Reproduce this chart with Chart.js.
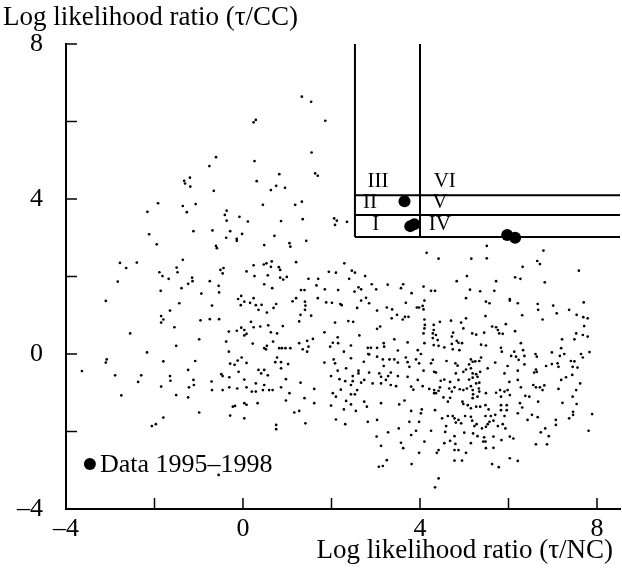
<!DOCTYPE html>
<html>
<head>
<meta charset="utf-8">
<script src="https://cdn.jsdelivr.net/npm/chart.js@4.4.0/dist/chart.umd.min.js"></script>
<style>
  html, body { margin: 0; padding: 0; background: #fff; }
</style>
</head>
<body>
<canvas id="grafico" width="622" height="569"></canvas>
<script>
// Pontos de fundo: [razao tau/NC, razao tau/CC]
const pontosFundo = [
  [-0.61,5.08],[-0.76,4.85],[-1.20,4.55],[-1.33,4.47],[-1.31,4.40],[-1.19,4.32],[-0.66,4.21],
  [1.33,6.64],[1.54,6.51],[0.29,6.04],[0.24,5.98],[1.86,6.02],[1.55,5.20],[0.26,4.98],[0.82,4.64],[1.63,4.66],[1.69,4.60],[0.31,4.46],[0.75,4.34],[0.63,4.23],[0.95,4.29],
  [-1.92,3.89],[-2.16,3.67],[-1.36,3.82],[-1.27,3.66],[-1.07,3.87],[-0.37,3.70],[-0.41,3.59],[-0.08,3.54],[0.11,3.42],[-0.37,3.44],[-2.12,3.09],[-1.12,3.17],[-0.69,3.19],[-0.29,3.17],[-0.02,3.10],[-0.38,3.00],[-0.14,2.97],[-0.14,2.92],[-1.95,2.83],[-0.61,2.79],[-0.59,2.73],[-2.78,2.35],[-2.40,2.36],[-2.64,2.22],[-1.36,2.43],[-1.50,2.23],[-1.48,2.11],[-1.89,2.11],[-1.82,2.01],[-1.68,1.94],[-1.15,1.97],[-1.14,1.88],[-0.75,1.88],[-0.51,2.17],[-0.44,2.22],[-0.46,2.08],[0.08,2.13],[-2.83,1.87],[-1.24,1.81],[-0.55,1.76],[-1.86,1.63],[-1.39,1.70],[-0.54,1.59],[-0.94,1.56],[-0.04,1.50],[-0.11,1.42],
  [0.45,3.85],[1.18,3.85],[1.33,3.93],[0.86,3.43],[1.35,3.48],[2.06,3.50],[2.12,3.44],[2.08,3.33],[2.35,3.41],[0.71,3.05],[0.48,2.81],[1.43,2.92],[1.05,2.86],[1.07,2.77],[4.15,2.61],[0.24,2.29],[0.47,2.31],[0.53,2.34],[0.65,2.39],[0.63,2.25],[0.81,2.24],[0.84,2.17],[1.20,2.37],[2.29,2.34],[2.46,2.15],[2.53,2.10],[1.94,2.12],[2.10,2.10],[0.26,2.01],[0.56,2.03],[0.84,1.97],[0.91,1.92],[0.99,1.99],[1.48,1.94],[1.70,1.94],[2.40,1.94],[2.76,2.01],[0.48,1.80],[0.66,1.70],[1.31,1.65],[1.39,1.65],[1.66,1.77],[1.85,1.67],[2.15,1.65],[2.52,1.61],[2.61,1.72],[2.67,1.67],[2.91,1.80],[3.01,1.67],[3.27,1.79],[3.57,1.70],[3.62,1.80],[3.81,1.57],[4.08,1.74],[4.25,1.63],[4.34,1.63],[0.24,1.44],[1.20,1.44],[1.69,1.44],[2.78,1.45],
  [5.51,2.79],[4.42,2.46],[5.16,2.46],[5.51,2.47],[6.79,2.67],[6.65,2.40],[6.71,2.32],[6.32,2.25],[7.59,2.15],[4.83,1.88],[5.06,2.01],[5.72,1.88],[6.15,1.98],[6.27,1.94],[6.82,1.85],[5.13,1.66],[5.36,1.62],[5.68,1.63],[5.04,1.44],[6.03,1.42],
  [-3.10,1.37],[-1.44,1.31],[-1.65,1.12],[-1.85,0.98],[-1.80,0.89],[-1.85,0.81],[-1.55,0.69],[-0.70,1.25],[-0.96,0.87],[-0.75,0.90],[-0.54,0.90],[-0.05,1.26],[0.03,1.35],[0.16,1.32],[-2.55,0.53],[-0.99,0.38],[-2.17,0.04],[-1.51,0.21],[-3.08,-0.14],[-3.10,-0.22],[-3.64,-0.44],[-1.80,-0.19],[-1.08,-0.18],[-1.24,-0.41],[-2.89,-0.55],[-2.30,-0.55],[-2.37,-0.72],[-1.65,-0.57],[-1.64,-0.69],[-1.12,-0.67],[-1.11,-0.80],[-1.85,-0.84],[-1.22,-0.86],[-0.71,-0.71],[-0.49,-0.52],[-0.46,-0.57],[-0.31,-0.60],[-0.70,-0.93],[-0.46,-0.93],[-0.31,-0.86],[-0.13,-0.89],[0.08,-0.86],[0.03,-0.66],[-0.10,-0.46],[-0.29,-0.25],[-0.19,-0.28],[-0.12,-0.17],[-0.03,-0.09],[0.08,-0.23],[-0.38,0.32],[-0.32,0.06],[-0.32,0.58],[-0.14,0.60],[-0.04,0.68],[0.03,0.62],[0.03,0.48],[0.08,0.52],[-2.75,-1.07],[-1.51,-1.06],[-1.24,-1.12],[0.18,0.83],
  [0.29,1.26],[0.35,1.14],[0.42,1.27],[0.54,1.07],[0.69,1.19],[0.75,1.29],[1.12,1.36],[1.40,1.35],[1.41,1.25],[1.40,1.14],[1.88,1.33],[2.01,1.32],[2.20,1.29],[2.23,1.26],[2.58,1.19],[2.67,1.38],[2.85,1.31],[3.03,1.12],[3.25,1.20],[3.37,1.15],[3.68,1.32],[3.93,1.20],[3.98,1.20],[4.06,1.24],[4.10,1.38],[4.08,1.15],
  [1.30,1.01],[1.54,0.99],[1.27,0.84],[0.24,0.69],[0.39,0.71],[0.57,0.74],[0.90,0.72],[0.63,0.56],[0.77,0.53],[1.84,0.56],[2.08,0.81],[2.38,0.85],[2.49,0.83],[3.10,0.71],[3.03,0.65],[3.48,1.01],[3.66,0.96],[3.74,0.96],[3.36,0.92],[3.61,0.89],[4.10,0.89],[4.11,0.75],[4.10,0.66],[4.08,0.53],[4.31,0.75],[4.31,0.62],[4.29,0.53],[2.63,0.48],[2.14,0.43],[2.03,0.29],[2.15,0.28],
  [0.22,0.27],[0.48,0.15],[0.54,0.21],[0.52,0.12],[0.68,0.32],[0.82,0.15],[0.88,0.15],[0.96,0.15],[1.07,0.15],[1.27,0.28],[1.35,0.12],[1.45,0.34],[1.48,0.19],[1.58,0.39],[1.45,0.06],[1.97,0.19],[2.28,0.06],[2.44,0.22],[2.82,0.16],[2.89,0.16],[2.83,0.00],[3.03,0.16],[3.18,0.28],[3.19,0.19],[3.42,0.38],[3.50,0.09],[3.72,0.30],[3.95,0.10],[4.02,0.00],[4.10,0.28],[4.29,0.41],[4.31,0.23],[4.36,0.49],
  [0.77,-0.09],[0.86,-0.21],[0.73,-0.21],[1.02,-0.26],[0.86,-0.37],[0.35,-0.41],[0.48,-0.41],[0.41,-0.50],[0.56,-0.55],[1.84,-0.22],[2.05,-0.14],[2.08,-0.24],[2.14,-0.43],[2.33,-0.37],[2.44,-0.11],[2.61,-0.43],[2.61,-0.50],[2.73,-0.20],[2.85,-0.01],[3.03,-0.07],[3.16,-0.14],[3.18,-0.31],[3.31,-0.14],[3.42,-0.14],[3.50,-0.22],[3.68,-0.09],[3.72,-0.21],[3.76,-0.33],[3.91,-0.14],[3.98,-0.24],[4.08,-0.43],[4.25,-0.24],[4.29,-0.15],[4.32,-0.46],[3.08,-0.50],[3.12,-0.59],[3.28,-0.57],[3.34,-0.48],[3.50,-0.57],[3.72,-0.59],[2.85,-0.48],[2.48,-0.57],
  [0.29,-0.76],[0.48,-0.80],[0.59,-0.93],[0.67,-0.93],[0.45,-0.93],[0.29,-0.97],[0.20,-0.97],[0.86,-0.86],[0.97,-0.65],[1.05,-1.01],[1.30,-0.74],[1.61,-0.90],[1.99,-0.57],[2.18,-0.65],[2.31,-0.70],[2.48,-0.70],[2.44,-0.80],[2.67,-0.74],[2.74,-0.67],[2.93,-0.76],[3.12,-0.76],[3.23,-0.67],[2.03,-1.01],[2.10,-1.10],[2.21,-0.92],[2.44,-1.04],[2.58,-0.93],[2.53,-1.04],[3.34,-0.80],[3.46,-0.83],[3.80,-0.84],[3.85,-0.92],[3.95,-0.67],[4.06,-0.83],[4.21,-0.90],[4.32,-0.93],[4.32,-1.01],[1.39,-1.14],
  [5.49,1.35],[5.57,1.31],[6.03,1.38],[6.21,1.31],[6.66,1.29],[6.67,1.14],[7.01,1.25],[7.09,1.05],[7.37,1.14],[7.70,1.33],[4.45,0.83],[4.70,0.86],[4.93,0.81],[5.04,0.92],[4.98,0.66],[5.48,0.98],[6.31,1.00],[6.77,0.89],[7.54,1.01],[7.69,0.95],[7.79,0.92],[7.71,0.72],[5.63,0.71],[5.72,0.69],[5.76,0.62],[5.79,0.53],[5.87,0.52],[5.94,0.77],[6.15,0.59],[5.18,0.53],[5.27,0.50],[5.45,0.55],[4.75,0.55],[4.72,0.45],[4.40,0.36],[4.83,0.34],[4.87,0.29],[4.95,0.28],[4.72,0.26],[4.74,0.12],[4.89,0.10],[4.42,0.21],[4.55,0.17],[5.38,0.24],[5.49,0.22],[6.28,0.28],[6.33,0.10],[5.83,0.16],[5.85,0.06],[6.13,0.06],[6.06,-0.05],[6.17,-0.07],[6.23,-0.15],[6.36,-0.05],[6.61,0.00],[6.64,-0.07],[6.98,0.04],[7.21,0.38],[7.49,0.38],[7.53,0.53],[7.68,0.49],[7.79,0.45],[7.19,0.15],[7.26,0.00],[7.16,-0.05],[7.64,0.00],[7.68,-0.09],[7.83,0.05],
  [4.60,-0.18],[4.80,-0.24],[4.85,-0.30],[5.15,-0.14],[5.19,-0.20],[5.25,-0.19],[5.34,-0.18],[5.38,-0.09],[5.11,-0.27],[5.15,-0.37],[5.04,-0.40],[4.98,-0.46],[4.81,-0.50],[5.19,-0.50],[5.27,-0.52],[5.36,-0.46],[5.53,-0.37],[5.70,-0.22],[5.98,-0.31],[5.91,-0.50],[6.21,-0.43],[6.36,-0.27],[6.62,-0.40],[6.58,-0.48],[6.85,-0.31],[6.98,-0.26],[7.11,-0.24],[7.13,-0.33],[7.41,-0.18],[7.49,-0.19],[7.45,-0.33],[7.56,-0.35],[7.44,-0.54],[7.30,-0.60],[7.19,-0.67],
  [4.36,-0.48],[4.47,-0.69],[4.55,-0.66],[4.68,-0.72],[4.87,-0.67],[5.11,-0.66],[5.19,-0.61],[5.30,-0.59],[5.34,-0.74],[5.27,-0.76],[5.15,-0.83],[5.06,-0.89],[4.98,-0.93],[4.66,-0.89],[4.78,-0.86],[4.90,-0.91],[4.45,-0.86],[4.42,-0.95],[4.36,-1.01],[4.72,-0.97],[4.53,-1.12],[4.68,-1.13],[5.19,-0.93],[5.33,-0.89],[5.34,-0.97],[5.20,-1.04],[5.49,-1.01],[5.72,-1.00],[5.81,-0.93],[5.91,-0.97],[5.98,-0.93],[6.03,-1.06],[6.21,-0.67],[6.02,-0.72],[6.28,-0.86],[6.56,-0.80],[6.62,-0.86],[6.71,-0.86],[6.81,-0.81],[6.64,-0.46],[6.77,-0.93],[7.13,-0.90],[7.62,-0.76],[7.53,-0.93],[7.45,-1.10],[6.38,-1.08],[6.47,-1.10],[5.83,-1.10],[5.30,-1.10],[5.19,-1.14],
  [-2.06,-1.86],[-1.97,-1.81],[-1.80,-1.64],[-0.99,-1.51],[-0.29,-1.59],[-0.23,-1.36],[-0.18,-1.34],[0.03,-1.27],[0.08,-1.31],[0.03,-1.66],[-0.55,-3.12],
  [0.33,-1.27],[0.97,-1.20],[1.16,-1.51],[1.27,-1.47],[1.61,-1.27],[1.99,-1.33],[2.28,-1.43],[2.33,-1.21],[2.44,-1.30],[2.55,-1.47],[2.74,-1.23],[2.80,-1.36],[3.12,-1.27],[3.53,-1.30],[3.65,-1.20],[3.80,-1.47],[4.04,-1.43],[4.02,-1.53],[4.34,-1.45],[0.75,-1.83],[0.75,-1.94],[1.41,-1.79],[2.10,-1.69],[2.31,-1.81],[2.82,-1.75],[3.03,-1.70],[3.28,-2.02],[3.52,-1.92],[3.76,-1.75],[3.98,-1.75],[3.91,-1.98],[3.80,-2.09],[4.25,-1.98],[4.10,-2.26],[3.02,-2.13],[3.12,-2.37],[3.57,-2.29],[3.62,-2.43],[3.98,-2.55],[3.25,-2.74],[3.07,-2.91],[3.16,-2.89],[3.81,-2.84],[4.34,-3.44],
  [4.63,-1.23],[4.96,-1.23],[4.98,-1.29],[5.08,-1.32],[5.15,-1.40],[5.27,-1.36],[5.36,-1.36],[5.48,-1.32],[5.55,-1.43],[5.83,-1.32],[5.83,-1.45],[5.96,-1.32],[5.96,-1.45],[6.26,-1.27],[6.31,-1.38],[6.21,-1.53],[6.67,-1.23],[7.22,-1.26],[7.54,-1.29],[7.46,-1.49],[7.46,-1.57],[7.89,-1.55],
  [4.50,-1.66],[4.63,-1.60],[4.74,-1.60],[4.78,-1.66],[4.81,-1.77],[4.87,-1.70],[4.93,-1.79],[5.02,-1.60],[5.15,-1.62],[5.18,-1.72],[5.23,-1.86],[5.28,-1.81],[5.40,-1.92],[5.49,-1.88],[5.53,-1.81],[5.57,-1.75],[5.48,-1.60],[5.60,-1.60],[5.66,-1.72],[5.70,-1.57],[5.91,-1.60],[5.76,-1.86],[5.87,-1.81],[5.93,-1.92],[4.59,-1.86],[4.57,-2.01],[4.78,-2.12],[5.00,-2.03],[5.20,-2.05],[5.30,-2.12],[5.45,-2.15],[5.43,-2.26],[5.66,-2.13],[5.84,-2.22],[6.03,-2.13],[6.11,-2.18],
  [6.43,-1.70],[6.53,-1.57],[6.66,-1.63],[7.07,-1.70],[7.07,-1.83],[7.37,-1.66],[6.83,-1.92],[6.73,-2.02],[6.91,-2.12],[6.62,-2.33],[6.87,-2.33],[7.81,-1.98],
  [4.55,-2.30],[4.68,-2.24],[4.80,-2.32],[4.78,-2.48],[4.87,-2.48],[4.42,-2.48],[4.38,-2.55],[5.04,-2.55],[5.15,-2.30],[5.49,-2.43],[5.48,-2.26],[5.66,-2.42],[6.03,-2.69],[6.21,-2.76],[4.78,-2.75],[4.95,-2.75],[5.63,-2.84],[5.78,-2.92],[4.42,-3.21]
];

// Dados 1995-1998 (pontos grandes)
const dadosX = [3.65, 3.78, 3.87, 5.97, 6.15];
const dadosY = [3.94, 3.30, 3.35, 3.07, 3.00];

// Eixos
const ticksRotulo = [-4, 0, 4, 8];
const ticksMenores = [-4, -2, 0, 2, 4, 6, 8];

// Caixa de regioes
const caixaX = [2.53, 4.0];
const caixaY = [4.10, 3.59, 3.02];
const regioesNome = ["III", "VI", "II", "V", "I", "IV"];
const regioesX = [3.05, 4.56, 2.87, 4.45, 3.0, 4.45];
const regioesY = [4.44, 4.44, 3.92, 3.92, 3.33, 3.33];

const legendaTexto = "Data 1995\u20131998";
const legendaPos = [-3.46, -2.84];

const fonte = '"Liberation Serif", "DejaVu Serif", serif';

function rotulo(v) {
  return v < 0 ? "\u2013" + Math.abs(v) : String(v);
}

const extras = {
  id: "extras",
  afterDraw(chart) {
    const { ctx, chartArea: a, scales: { x, y } } = chart;
    ctx.save();
    ctx.strokeStyle = "#000";
    ctx.fillStyle = "#000";

    // ticks para dentro
    ctx.lineWidth = 1.5;
    ticksMenores.forEach(v => {
      const px = x.getPixelForValue(v);
      ctx.beginPath(); ctx.moveTo(px, a.bottom); ctx.lineTo(px, a.bottom - 11); ctx.stroke();
      const py = y.getPixelForValue(v);
      ctx.beginPath(); ctx.moveTo(a.left, py); ctx.lineTo(a.left + 11, py); ctx.stroke();
    });

    // caixa
    ctx.lineWidth = 2;
    const xl = x.getPixelForValue(caixaX[0]);
    const yb = y.getPixelForValue(caixaY[caixaY.length - 1]);
    caixaX.forEach(v => {
      const px = x.getPixelForValue(v);
      ctx.beginPath(); ctx.moveTo(px, a.top); ctx.lineTo(px, yb); ctx.stroke();
    });
    caixaY.forEach(v => {
      const py = y.getPixelForValue(v);
      ctx.beginPath(); ctx.moveTo(xl, py); ctx.lineTo(a.right, py); ctx.stroke();
    });

    // nomes das regioes
    ctx.font = "21px " + fonte;
    ctx.textAlign = "center";
    ctx.textBaseline = "middle";
    regioesNome.forEach((n, i) => {
      ctx.fillText(n, x.getPixelForValue(regioesX[i]), y.getPixelForValue(regioesY[i]));
    });

    // legenda
    const lx = x.getPixelForValue(legendaPos[0]);
    const ly = y.getPixelForValue(legendaPos[1]);
    ctx.beginPath(); ctx.arc(lx, ly, 6, 0, Math.PI * 2); ctx.fill();
    ctx.font = "26px " + fonte;
    ctx.textAlign = "left";
    ctx.fillText(legendaTexto, lx + 10, ly + 1);

    // titulos dos eixos
    ctx.font = "27px " + fonte;
    ctx.textAlign = "left";
    ctx.fillText("Log likelihood ratio (\u03c4/CC)", 3, 18);
    ctx.textAlign = "right";
    ctx.fillText("Log likelihood ratio (\u03c4/NC)", 613, 551);
    ctx.restore();
  }
};

const ctx = document.getElementById("grafico").getContext("2d");
new Chart(ctx, {
  type: "scatter",
  data: {
    datasets: [
      {
        data: pontosFundo.map(p => ({ x: p[0], y: p[1] })),
        pointRadius: 1.35,
        backgroundColor: "#000",
        borderWidth: 0
      },
      {
        data: dadosX.map((v, i) => ({ x: v, y: dadosY[i] })),
        pointRadius: 6,
        backgroundColor: "#000",
        borderWidth: 0
      }
    ]
  },
  options: {
    responsive: false,
    animation: false,
    layout: { autoPadding: false, padding: { top: 44, right: 2, left: 0, bottom: 0 } },
    plugins: { legend: { display: false }, tooltip: { enabled: false } },
    scales: {
      x: {
        type: "linear",
        min: -4,
        max: 8.52,
        afterBuildTicks: s => { s.ticks = ticksRotulo.map(v => ({ value: v })); },
        afterFit: s => { s.height = 60; s.paddingLeft = 0; s.paddingRight = 0; },
        grid: { display: false, drawTicks: false },
        border: { display: true, color: "#000", width: 2 },
        ticks: { color: "#000", font: { family: fonte, size: 26 }, padding: 5, maxRotation: 0, callback: v => rotulo(v) }
      },
      y: {
        type: "linear",
        min: -4,
        max: 8,
        afterBuildTicks: s => { s.ticks = ticksRotulo.map(v => ({ value: v })); },
        afterFit: s => { s.width = 66; s.paddingTop = 0; s.paddingBottom = 0; },
        grid: { display: false, drawTicks: false },
        border: { display: true, color: "#000", width: 2 },
        ticks: { color: "#000", font: { family: fonte, size: 26 }, padding: 23, callback: v => rotulo(v) }
      }
    }
  },
  plugins: [extras]
});
</script>
</body>
</html>
